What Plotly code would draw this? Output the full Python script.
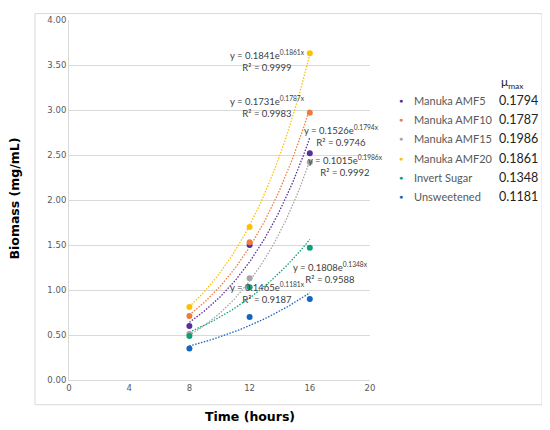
import numpy as np
import plotly.graph_objects as go

# sampling times (hours)
time_h = [8, 12, 16]

# biomass (mg/mL)
series_names = ["Manuka AMF5", "Manuka AMF10", "Manuka AMF15", "Manuka AMF20",
                "Invert Sugar", "Unsweetened"]
amf5 = [0.60, 1.50, 2.52]
amf10 = [0.71, 1.53, 2.97]
amf15 = [0.51, 1.13, 2.42]
amf20 = [0.81, 1.70, 3.63]
invert = [0.49, 1.03, 1.47]
unsweet = [0.35, 0.70, 0.90]

# exponential trendline coefficients y = a*e^(b*x) and R^2 as printed
trend_a = [0.1526, 0.1731, 0.1015, 0.1841, 0.1808, 0.1465]
trend_b = [0.1794, 0.1787, 0.1986, 0.1861, 0.1348, 0.1181]
r2 = [0.9746, 0.9983, 0.9992, 0.9999, 0.9588, 0.9187]
mu_max = ["0.1794", "0.1787", "0.1986", "0.1861", "0.1348", "0.1181"]

colors = ["#5b2ea0", "#ef7b3a", "#a5a5a5", "#ffc000", "#0e9e78", "#1565c0"]

# equation label centres (data coords)
eq_x = [18.1, 13.2, 18.4, 13.2, 17.4, 13.2]
eq_y = [2.72, 3.04, 2.38, 3.55, 1.19, 0.97]

values = [amf5, amf10, amf15, amf20, invert, unsweet]

# page body has an 8px margin, so work in reference pixels and shift
OFF = 8
W, H = 550 - OFF, 430 - OFF
plot_left, plot_w = 69, 301
plot_top, plot_h = 15, 365


def px_x(p):
    return (p - plot_left) / plot_w


def px_y(p):
    return 1 - (p - plot_top) / plot_h


fig = go.Figure()

x_fit = np.linspace(8, 16, 60)
for i, name in enumerate(series_names):
    y_fit = trend_a[i] * np.exp(trend_b[i] * x_fit)
    fig.add_trace(go.Scatter(x=x_fit, y=y_fit, mode="lines",
                             line=dict(color=colors[i], width=1.3, dash="1.5px,1.5px"),
                             showlegend=False, hoverinfo="skip"))

for i, name in enumerate(series_names):
    fig.add_trace(go.Scatter(x=time_h, y=values[i], mode="markers", name=name,
                             marker=dict(color=colors[i], size=6),
                             showlegend=False))

annotations = []
for i in range(len(series_names)):
    annotations.append(dict(
        x=eq_x[i], y=eq_y[i], xref="x", yref="y", showarrow=False,
        xanchor="center", yanchor="middle",
        text=f"y = {trend_a[i]:.4f}e<sup>{trend_b[i]:.4f}x</sup><br>R² = {r2[i]:.4f}",
        font=dict(family="Lato", size=9.5, color="#404040"), align="center"))

# custom legend with the mu max column
row_y0 = 96.5
row_dy = 19.5
annotations.append(dict(x=px_x(513), y=px_y(78), xref="paper", yref="paper",
                        showarrow=False, xanchor="center", yanchor="middle",
                        text="μ<sub>max</sub>",
                        font=dict(family="Lato", size=12, color="#222222")))
for i, name in enumerate(series_names):
    yy = px_y(row_y0 + i * row_dy)
    annotations.append(dict(x=px_x(400.5), y=yy, xref="paper", yref="paper",
                            showarrow=False, text="●", xanchor="center", yanchor="middle",
                            font=dict(size=7, color=colors[i])))
    annotations.append(dict(x=px_x(412), y=yy, xref="paper", yref="paper",
                            showarrow=False, text=name, xanchor="left", yanchor="middle",
                            font=dict(family="Lato", size=11, color="#595959")))
    annotations.append(dict(x=px_x(497), y=yy, xref="paper", yref="paper",
                            showarrow=False, text=mu_max[i], xanchor="left", yanchor="middle",
                            font=dict(family="Lato", size=12.5, color="#222222")))

annotations.append(dict(x=px_x(250), y=px_y(417), xref="paper", yref="paper",
                        showarrow=False, xanchor="center", yanchor="middle",
                        text="<b>Time (hours)</b>",
                        font=dict(family="DejaVu Sans", size=12.5, color="black")))
annotations.append(dict(x=px_x(15), y=px_y(196), xref="paper", yref="paper",
                        showarrow=False, xanchor="center", yanchor="middle",
                        text="<b>Biomass (mg/mL)</b>", textangle=-90,
                        font=dict(family="DejaVu Sans", size=12.5, color="black")))

fig.update_layout(
    width=W, height=H,
    margin=dict(l=plot_left - OFF, r=W - (plot_left - OFF) - plot_w,
                t=plot_top - OFF, b=H - (plot_top - OFF) - plot_h, pad=0),
    plot_bgcolor="white", paper_bgcolor="white",
    showlegend=False,
    annotations=annotations,
    shapes=[dict(type="rect", xref="paper", yref="paper",
                 x0=px_x(35), x1=px_x(542), y0=px_y(405), y1=px_y(8.5),
                 line=dict(color="#d9d9d9", width=1), layer="below")],
)
fig.update_xaxes(range=[0, 20], tickvals=[0, 4, 8, 12, 16, 20], showgrid=False,
                 showline=True, linecolor="#d9d9d9", linewidth=1, zeroline=False,
                 ticks="", tickfont=dict(family="DejaVu Sans", size=8.5, color="#595959"))
fig.update_yaxes(range=[0, 4], dtick=0.5, tickformat=".2f", showgrid=True,
                 gridcolor="#d9d9d9", gridwidth=1, showline=True, linecolor="#d9d9d9",
                 zeroline=False, ticks="",
                 tickfont=dict(family="DejaVu Sans", size=8.5, color="#595959"))

fig.write_html("out.html")
